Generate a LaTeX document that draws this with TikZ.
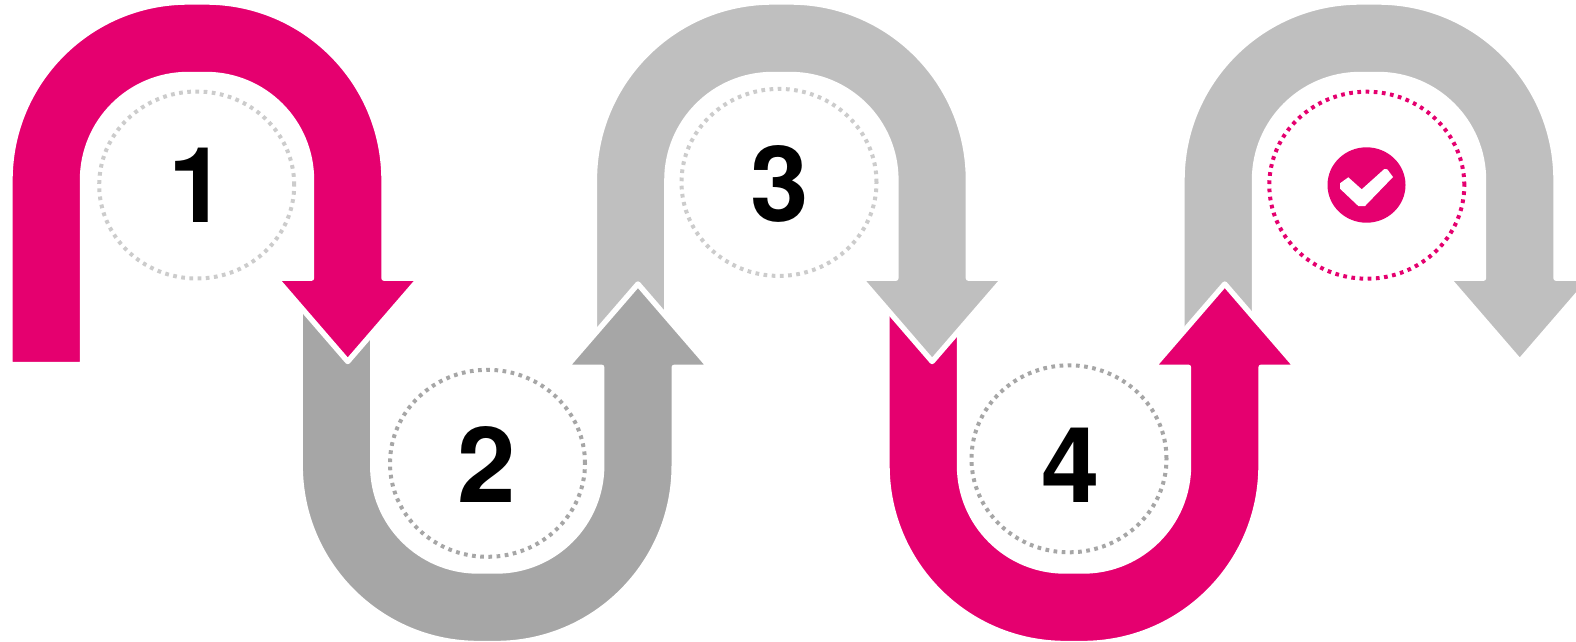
\documentclass[tikz,border=0pt]{standalone}
\usepackage{fontspec}
\setmainfont{TeX Gyre Heros}
\usetikzlibrary{shapes.geometric}
\definecolor{pinkc}{HTML}{E5006F}
\definecolor{midgray}{HTML}{A6A6A6}
\definecolor{lightgray}{HTML}{BFBFBF}
\definecolor{ringlight}{HTML}{CCCCCC}
\newcommand{\bendarrowpath}{(10,364.5) -- (10,180)
  .. controls (10,81.7) and (89.7,2) .. (188,2) -- (206,2)
  .. controls (304.3,2) and (384,81.7) .. (384,180)
  -- (384,278.2) -- (419.75,278.2) -- (347.75,361.5) -- (275.75,278.2) -- (311.5,278.2) -- (311.5,180)
  .. controls (311.5,121.7) and (264.3,74.5) .. (206,74.5) -- (188,74.5)
  .. controls (129.7,74.5) and (82.5,121.7) .. (82.5,180) -- (82.5,364.5) -- cycle}
\tikzset{
  bendarrow/.style={fill=#1,draw=white,line width=5.4pt,line join=round},
  ring/.style={ellipse,draw=#1,line width=4pt,dash pattern=on 3.7pt off 4.5pt,
    minimum width=195pt,minimum height=187pt,inner sep=0pt,fill=none},
  digit/.style={font=\fontsize{105pt}{105pt}\selectfont\bfseries,text=black,inner sep=0pt,anchor=base}
}
\begin{document}
\begin{tikzpicture}[x=1pt,y=-1pt]
\path[use as bounding box,clip] (0,0) rectangle (1576,641);
\fill[white] (0,0) rectangle (1576,641);
% bottom-most to top-most
\begin{scope}[xshift=1172pt]
  \path[bendarrow=lightgray] \bendarrowpath;
\end{scope}
\begin{scope}[xshift=877pt,yshift=-645.5pt,y=1pt]
  \path[bendarrow=pinkc] \bendarrowpath;
\end{scope}
\begin{scope}[xshift=584.4pt]
  \path[bendarrow=lightgray] \bendarrowpath;
\end{scope}
\begin{scope}[xshift=290.2pt,yshift=-645.5pt,y=1pt]
  \path[bendarrow=midgray] \bendarrowpath;
\end{scope}
\path[bendarrow=pinkc] \bendarrowpath;
% rings
\node[ring=ringlight] (ringa) at (196.7,185) {};
\node[ring=midgray]   (ringb) at (487.5,463.3) {};
\node[ring=ringlight] (ringc) at (779,182.4) {};
\node[ring=midgray]   (ringd) at (1069,458.8) {};
\node[ring=pinkc]     (ringe) at (1366.8,185.2) {};
% digits
\node[digit] (numa) at (197.5,222.7) {1};
\node[digit] (numb) at (487,502.5) {2};
\node[digit] (numc) at (780,221.9) {3};
\node[digit] (numd) at (1071,502.5) {4};
% check badge
\node[ellipse,fill=pinkc,minimum width=78pt,minimum height=75.4pt,inner sep=0pt] (badge) at (1366.5,185) {};
\fill[white] (1340,183.3) -- (1348.3,177.3) -- (1361.7,189.3) -- (1384.3,169) -- (1387.3,169.3)
  -- (1393,177) -- (1365,206) -- (1358.3,206) -- (1340,188.7) -- cycle;
\end{tikzpicture}
\end{document}
